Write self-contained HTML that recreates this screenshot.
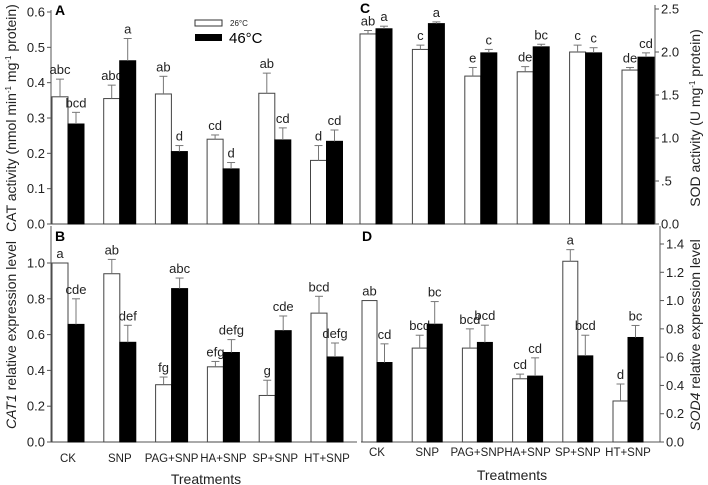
<!DOCTYPE html>
<html><head><meta charset="utf-8"><style>
body{margin:0;background:#fff}
svg{display:block;font-family:"Liberation Sans",Arial,sans-serif}
</style></head><body>
<svg id="chart" width="708" height="485" viewBox="0 0 708 485">
<g id="root"></g>
</svg>
<script>
const categories = ["CK","SNP","PAG+SNP","HA+SNP","SP+SNP","HT+SNP"];
// Panel A: CAT activity
const catW = [0.36,0.355,0.368,0.24,0.37,0.18];
const catWErr = [0.41,0.393,0.418,0.252,0.427,0.222];
const catB = [0.283,0.462,0.205,0.156,0.238,0.234];
const catBErr = [0.316,0.525,0.222,0.174,0.272,0.266];
const catWLet = ["abc","abc","ab","cd","ab","d"];
const catBLet = ["bcd","a","d","d","cd","cd"];
const catTicks = ["0.0","0.1","0.2","0.3","0.4","0.5","0.6"];
// Panel B: CAT1 expression
const cat1W = [1.0,0.94,0.32,0.42,0.26,0.72];
const cat1WErr = [1.0,1.02,0.363,0.45,0.345,0.814];
const cat1B = [0.657,0.557,0.857,0.5,0.622,0.475];
const cat1BErr = [0.8,0.652,0.916,0.572,0.704,0.553];
const cat1WLet = ["a","ab","fg","efg","g","bcd"];
const cat1BLet = ["cde","def","abc","defg","cde","defg"];
const cat1Ticks = ["0.0","0.2","0.4","0.6","0.8","1.0"];
// Panel C: SOD activity
const sodW = [2.21,2.03,1.72,1.77,2.0,1.79];
const sodWErr = [2.25,2.08,1.82,1.83,2.08,1.82];
const sodB = [2.27,2.33,1.99,2.06,1.99,1.94];
const sodBErr = [2.3,2.35,2.03,2.09,2.05,1.99];
const sodWLet = ["ab","c","e","de","c","de"];
const sodBLet = ["a","a","c","bc","c","cd"];
const sodTicks = ["0.0",".5","1.0","1.5","2.0","2.5"];
// Panel D: SOD4 expression
const sod4W = [1.0,0.664,0.664,0.447,1.278,0.29];
const sod4WErr = [1.0,0.755,0.8,0.48,1.36,0.41];
const sod4B = [0.562,0.833,0.704,0.466,0.609,0.739];
const sod4BErr = [0.694,0.993,0.826,0.595,0.755,0.824];
const sod4WLet = ["ab","bcd","bcd","cd","a","d"];
const sod4BLet = ["cd","bc","bcd","cd","bcd","bc"];
const sod4Ticks = ["0.0","0.2","0.4","0.6","0.8","1.0","1.2","1.4"];

const NS="http://www.w3.org/2000/svg";
const root=document.getElementById('root');
function mk(tag,attrs,parent){const e=document.createElementNS(NS,tag);for(const k in attrs)e.setAttribute(k,attrs[k]);(parent||root).appendChild(e);return e;}
const AX="#555";

function panel(p){
  const g=mk('g',{});
  
  
  const y=v=>p.y0-(v/p.vmax)*(p.y0-p.ytop);
  const axisX = p.side==='left'?p.x0:p.x1;
  const ax=mk('line',{x1:axisX,x2:axisX,y1:p.top,y2:p.y0,stroke:AX,'stroke-width':1},g);
  
  
  const bx=mk('line',{x1:p.x0,x2:p.x1,y1:p.y0,y2:p.y0,stroke:AX,'stroke-width':1},g);
  
  
  p.ticks.forEach((t,i)=>{
    const v=i*p.step, ty=y(v);
    const d=p.side==='left'?-4:4;
    mk('line',{x1:axisX,x2:axisX+d,y1:ty,y2:ty,stroke:AX},g);
    const tx=mk('text',{x:p.side==='left'?axisX-6:axisX+6,y:ty+4.5,'font-size':13,fill:'#222','text-anchor':p.side==='left'?'end':'start'},g);
    tx.textContent=t;
    
    
  });
  categories.forEach((c,i)=>{
    const gx=p.gx0+i*p.pitch;
    [[p.w,p.we,p.wl,'#fff',gx],[p.b,p.be,p.bl,'#000',gx+p.bw]].forEach(([vals,errs,lets,fill,x],k)=>{
      const top=y(vals[i]);
      const r=mk('rect',{x:x,y:top,width:p.bw,height:p.y0-top,fill:fill,stroke:k===0?'#444':'#000','stroke-width':1},g);
      
      
      const cx=x+p.bw/2, et=y(errs[i]);
      if(errs[i]>vals[i]){
        mk('line',{x1:cx,x2:cx,y1:top,y2:et,stroke:'#777'},g);
        mk('line',{x1:cx-4,x2:cx+4,y1:et,y2:et,stroke:'#777'},g);
      }
      const lt=mk('text',{x:cx,y:et-5,'font-size':13,'text-anchor':'middle',fill:'#222'},g);
      lt.textContent=lets[i];
      
      
    });
    if(p.xlab){
      const xl=mk('text',{x:gx+p.bw,y:p.xly,'font-size':11.5,'text-anchor':'middle',fill:'#222'},g);
      xl.textContent=c;
      
      
    }
  });
  const L=mk('text',{x:p.lx,y:p.ly,'font-size':14,'font-weight':'bold',fill:'#000'},g);
  L.textContent=p.letter;
  
  
}

panel({name:'panel-a',side:'left',x0:51,x1:357,top:10,y0:224,ytop:12,vmax:0.6,step:0.1,ticks:catTicks,gx0:52,pitch:51.7,bw:16,w:catW,we:catWErr,b:catB,be:catBErr,wl:catWLet,bl:catBLet,letter:'A',lx:55,ly:15});
panel({name:'panel-c',side:'right',x0:357,x1:655,top:5,y0:224,ytop:9,vmax:2.5,step:0.5,ticks:sodTicks,gx0:360,pitch:52.4,bw:16,w:sodW,we:sodWErr,b:sodB,be:sodBErr,wl:sodWLet,bl:sodBLet,letter:'C',lx:360,ly:13});
panel({name:'panel-b',side:'left',x0:51,x1:357,top:226,y0:442,ytop:263,vmax:1.0,step:0.2,ticks:cat1Ticks,gx0:52,pitch:51.8,bw:16,w:cat1W,we:cat1WErr,b:cat1B,be:cat1BErr,wl:cat1WLet,bl:cat1BLet,letter:'B',lx:55,ly:241,xlab:true,xly:462});
panel({name:'panel-d',side:'right',x0:361,x1:660,top:226,y0:442,ytop:244,vmax:1.4,step:0.2,ticks:sod4Ticks,gx0:362,pitch:50.2,bw:15,w:sod4W,we:sod4WErr,b:sod4B,be:sod4BErr,wl:sod4WLet,bl:sod4BLet,letter:'D',lx:362,ly:241,xlab:true,xly:456});

function txt(s,attrs,name){const t=mk('text',attrs);t.textContent=s;return t;}
const ta=mk('text',{transform:'translate(16,118) rotate(-90)','font-size':14,'text-anchor':'middle',fill:'#222'});


ta.innerHTML='CAT activity (nmol min<tspan dy="-5" font-size="8">-1</tspan><tspan dy="5"> mg</tspan><tspan dy="-5" font-size="8">-1</tspan><tspan dy="5"> protein)</tspan>';
const tb=mk('text',{transform:'translate(16,335) rotate(-90)','font-size':14,'text-anchor':'middle',fill:'#222'});


tb.innerHTML='<tspan font-style="italic">CAT1</tspan> relative expression level';
const tc=mk('text',{transform:'translate(700,118) rotate(-90)','font-size':14,'text-anchor':'middle',fill:'#222'});


tc.innerHTML='SOD activity (U mg<tspan dy="-5" font-size="8">-1</tspan><tspan dy="5"> protein)</tspan>';
const td=mk('text',{transform:'translate(700,335) rotate(-90)','font-size':14,'text-anchor':'middle',fill:'#222'});


td.innerHTML='<tspan font-style="italic">SOD4</tspan> relative expression level';
txt('Treatments',{x:206,y:484,'font-size':14,'text-anchor':'middle',fill:'#222'},'x-axis-title-b');
txt('Treatments',{x:512,y:480,'font-size':14,'text-anchor':'middle',fill:'#222'},'x-axis-title-d');
const lg=mk('g',{});


mk('rect',{x:195,y:20,width:27,height:6,fill:'#fff',stroke:'#333'},lg);
mk('rect',{x:195,y:34,width:27,height:7,fill:'#000'},lg);
const l1=mk('text',{x:230,y:26,'font-size':8,fill:'#222'},lg);l1.textContent='26°C';
const l2=mk('text',{x:229,y:43,'font-size':15,fill:'#000'},lg);l2.textContent='46°C';
</script>
</body></html>
